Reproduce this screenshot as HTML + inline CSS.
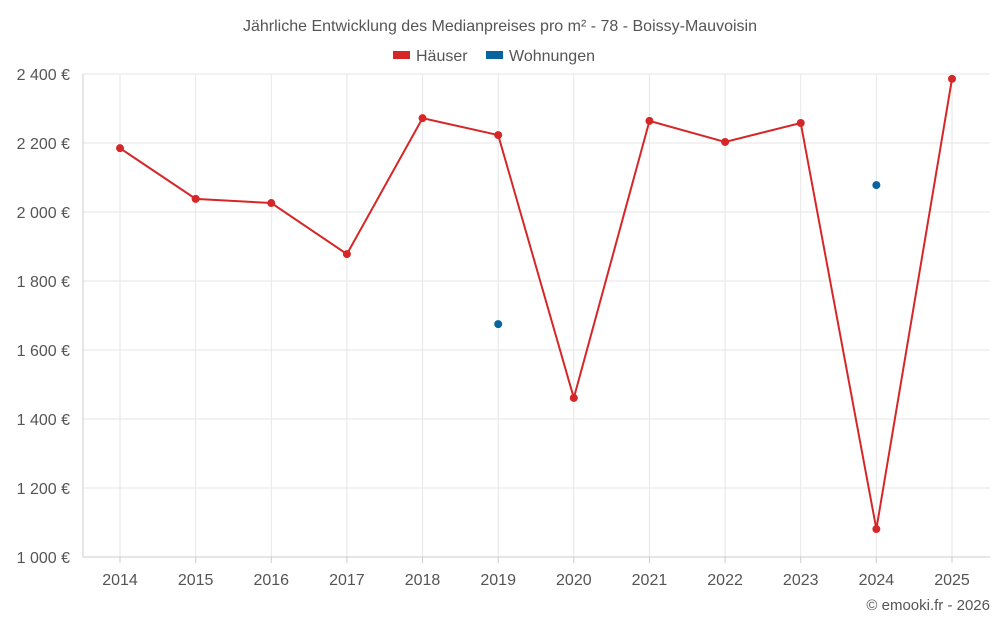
<!DOCTYPE html>
<html><head><meta charset="utf-8"><style>
body{margin:0;background:#fff;}
svg text{font-family:"Liberation Sans",sans-serif;fill:#555;}
</style></head><body>
<svg id="chart" width="1000" height="625">
<text x="500" y="31" text-anchor="middle" font-size="16">Jährliche Entwicklung des Medianpreises pro m² - 78 - Boissy-Mauvoisin</text>
<g>
<g><rect x="393" y="51" width="17" height="8" fill="#d62728"/><text x="416" y="61" font-size="16">Häuser</text></g>
<g><rect x="486" y="51" width="17" height="8" fill="#07649c"/><text x="509" y="61" font-size="16">Wohnungen</text></g>
</g>
<g id="grid"></g><g id="axes"></g><g id="marks"></g>
<text x="990" y="610" text-anchor="end" font-size="15">© emooki.fr - 2026</text>
</svg>
<script>
const years=[2014,2015,2016,2017,2018,2019,2020,2021,2022,2023,2024,2025];
const houses=[2185,2038,2026,1878,2272,2223,1461,2264,2203,2258,1081,2386];
const apartments=[null,null,null,null,null,1675,null,null,null,null,2078,null];
const yTicks=[1000,1200,1400,1600,1800,2000,2200,2400];
const yLabels=["1 000 €","1 200 €","1 400 €","1 600 €","1 800 €","2 000 €","2 200 €","2 400 €"];
const NS="http://www.w3.org/2000/svg";
const L=83,R=990,T=74,B=557;
const x=i=>120+i*(952-120)/(years.length-1);
const y=v=>B-(v-1000)/(2400-1000)*(B-T);
function mk(tag,attrs,parent){const e=document.createElementNS(NS,tag);for(const k in attrs)e.setAttribute(k,attrs[k]);document.getElementById(parent).appendChild(e);return e;}
yTicks.forEach((t,i)=>{
 const g=mk('line',{x1:L,x2:R,y1:y(t),y2:y(t),stroke:'#e6e6e6'},'grid');
 
 
 const tx=mk('text',{x:70,y:y(t)+6,'text-anchor':'end','font-size':'16'},'axes');
 tx.textContent=yLabels[i];
 
 
});
years.forEach((yr,i)=>{
 const g=mk('line',{x1:x(i),x2:x(i),y1:T,y2:B,stroke:'#e6e6e6'},'grid');
 
 
 const tk=mk('line',{x1:x(i),x2:x(i),y1:B,y2:B+6,stroke:'#ccc'},'axes');
 
 
 const tx=mk('text',{x:x(i),y:B+28,'text-anchor':'middle','font-size':'16'},'axes');
 tx.textContent=yr;
 
 
});
const ax=mk('line',{x1:L,x2:R,y1:B,y2:B,stroke:'#ccc'},'axes');


const ay=mk('line',{x1:L,x2:L,y1:T,y2:B,stroke:'#ccc'},'axes');


const pts=houses.map((v,i)=>x(i)+','+y(v)).join(' ');
const pl=mk('polyline',{points:pts,fill:'none',stroke:'#d62728','stroke-width':2},'marks');


houses.forEach((v,i)=>{
 const c=mk('circle',{cx:x(i),cy:y(v),r:4,fill:'#d62728'},'marks');
 
 
});
apartments.forEach((v,i)=>{
 if(v==null)return;
 const c=mk('circle',{cx:x(i),cy:y(v),r:4,fill:'#07649c'},'marks');
 
 
});
</script>
</body></html>
